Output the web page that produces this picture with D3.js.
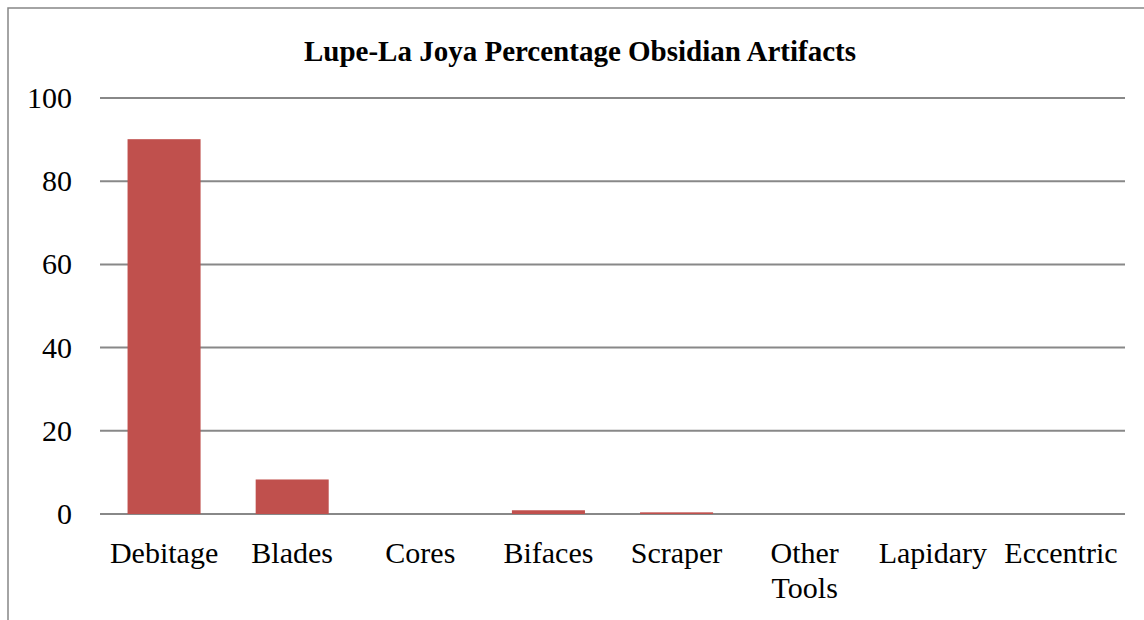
<!DOCTYPE html>
<html><head><meta charset="utf-8">
<script src="https://cdn.jsdelivr.net/npm/d3@7"></script>
<style>body{margin:0;background:#fff}svg{display:block}</style>
</head><body>
<script>
const categories = ["Debitage","Blades","Cores","Bifaces","Scraper","Other Tools","Lapidary","Eccentric"];
const values = [90.1, 8.3, 0, 0.9, 0.4, 0, 0, 0];
const yTicks = [0,20,40,60,80,100];
const title = "Lupe-La Joya Percentage Obsidian Artifacts";

const W = 1144, H = 620;
const svg = d3.select("body").append("svg").attr("width",W).attr("height",H);
const font = "'Liberation Serif','Times New Roman',serif";

// chart border
svg.append("rect").attr("x",8).attr("y",8).attr("width",1150).attr("height",700)
  .attr("fill","none").attr("stroke","#868686").attr("stroke-width",1.5);

const x = d3.scaleBand().domain(categories).range([100,1125]).paddingInner(0.43).paddingOuter(0.215);
const y = d3.scaleLinear().domain([0,100]).range([514,98]);

// gridlines
svg.append("g").selectAll("line").data(yTicks).join("line")
  .attr("x1",100).attr("x2",1125).attr("y1",d=>y(d)).attr("y2",d=>y(d))
  .attr("stroke","#888").attr("stroke-width",2);

// bars
svg.append("g").selectAll("rect").data(categories.map((c,i)=>({c,v:values[i]}))).join("rect")
  .attr("x",d=>x(d.c)).attr("width",x.bandwidth())
  .attr("y",d=>y(d.v)).attr("height",d=>y(0)-y(d.v))
  .attr("fill","#C0504D");

// y tick labels
svg.append("g").selectAll("text").data(yTicks).join("text")
  .attr("x",72).attr("y",d=>y(d)+10).attr("text-anchor","end")
  .attr("font-family",font).attr("font-size",30).attr("fill","#000").text(d=>d);

// x labels
const xl = svg.append("g").selectAll("text").data(categories).join("text")
  .attr("x",d=>x(d)+x.bandwidth()/2).attr("y",563).attr("text-anchor","middle")
  .attr("font-family",font).attr("font-size",30).attr("fill","#000");
xl.each(function(d){
  const t = d3.select(this);
  const parts = d==="Other Tools" ? ["Other","Tools"] : [d];
  parts.forEach((p,i)=>t.append("tspan").attr("x",x(d)+x.bandwidth()/2).attr("dy",i?35:0).text(p));
});

// title
svg.append("text").attr("x",580).attr("y",61).attr("text-anchor","middle")
  .attr("font-family",font).attr("font-weight","bold").attr("font-size",29)
  .attr("fill","#000").text(title);
</script>
</body></html>
